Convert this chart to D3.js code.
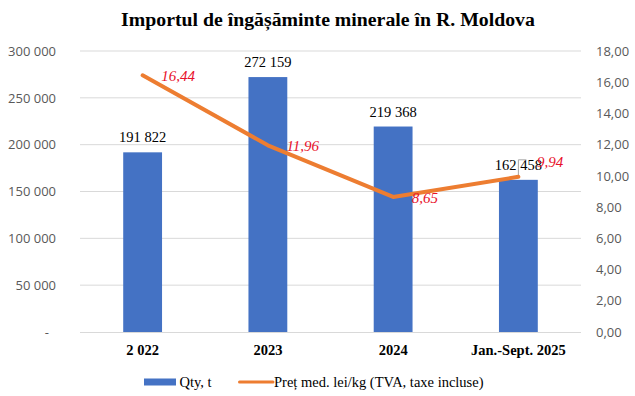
<!DOCTYPE html>
<html>
<head>
<meta charset="utf-8">
<script src="https://cdn.jsdelivr.net/npm/d3@7"></script>
<style>
  html, body { margin: 0; padding: 0; background: #fff; }
  svg { display: block; }
</style>
</head>
<body>
<svg id="chart" width="635" height="396"></svg>
<script>
const categories = ["2 022", "2023", "2024", "Jan.-Sept. 2025"];
const qty = [191822, 272159, 219368, 162458];
const price = [16.44, 11.96, 8.65, 9.94];
const leftTicks = [0, 50000, 100000, 150000, 200000, 250000, 300000];
const rightTicks = [0, 2, 4, 6, 8, 10, 12, 14, 16, 18];
const title = "Importul de îngășăminte minerale în R. Moldova";
const seriesNames = ["Qty, t", "Preț med. lei/kg (TVA, taxe incluse)"];

const svg = d3.select("#chart");
const m = { left: 80, right: 581, top: 51, bottom: 332 };
const serif = "'Liberation Serif', 'Times New Roman', serif";
const sans = "'Open Sans', 'Liberation Sans', sans-serif";

const x = d3.scaleBand().domain(categories).range([m.left, m.right]).paddingInner(0.69).paddingOuter(0.345);
const yL = d3.scaleLinear().domain([0, 300000]).range([m.bottom, m.top]);
const yR = d3.scaleLinear().domain([0, 18]).range([m.bottom, m.top]);
const cx = c => x(c) + x.bandwidth() / 2;

// title
svg.append("text").attr("x", 328).attr("y", 25.5).attr("text-anchor", "middle")
  .attr("font-family", serif).attr("font-weight", "bold").attr("font-size", 19.8)
  .attr("fill", "#000").text(title);

// gridlines
svg.append("g").selectAll("line").data(leftTicks.filter(d => d > 0)).join("line")
  .attr("x1", m.left).attr("x2", m.right)
  .attr("y1", d => yL(d)).attr("y2", d => yL(d))
  .attr("stroke", "#d9d9d9").attr("stroke-width", 1);

// left axis
const fmtL = d => d === 0 ? "-" : d3.format(",")(d).replace(/,/g, " ");
const axL = svg.append("g").attr("transform", `translate(${56},0)`)
  .call(d3.axisLeft(yL).tickValues(leftTicks).tickFormat(fmtL).tickSize(0).tickPadding(0));
axL.select(".domain").remove();
axL.selectAll("text").attr("font-family", sans).attr("font-size", 13).attr("fill", "#595959")
  .attr("dx", d => d === 0 ? -7 : 0);

// right axis
const fmtR = d => d3.format(".2f")(d).replace(".", ",");
const axR = svg.append("g").attr("transform", `translate(${596},0)`)
  .call(d3.axisRight(yR).tickValues(rightTicks).tickFormat(fmtR).tickSize(0).tickPadding(0));
axR.select(".domain").remove();
axR.selectAll("text").attr("font-family", sans).attr("font-size", 13).attr("fill", "#595959");

// bars
svg.append("g").selectAll("rect").data(categories).join("rect")
  .attr("x", c => x(c)).attr("width", x.bandwidth())
  .attr("y", (c, i) => yL(qty[i])).attr("height", (c, i) => m.bottom - yL(qty[i]))
  .attr("fill", "#4472c4");

// baseline axis
svg.append("line").attr("x1", m.left).attr("x2", m.right)
  .attr("y1", m.bottom + 0.5).attr("y2", m.bottom + 0.5)
  .attr("stroke", "#d9d9d9").attr("stroke-width", 1);

// x axis labels
const axB = svg.append("g").attr("transform", `translate(0,${m.bottom})`)
  .call(d3.axisBottom(x).tickSize(0).tickPadding(0));
axB.select(".domain").remove();
axB.selectAll("text").attr("font-family", serif).attr("font-weight", "bold")
  .attr("font-size", 14.5).attr("fill", "#000").attr("dy", 0).attr("y", 23);

// bar value labels
svg.append("g").selectAll("text").data(categories).join("text")
  .attr("x", c => cx(c)).attr("y", (c, i) => yL(qty[i]) - 10)
  .attr("text-anchor", "middle").attr("font-family", serif).attr("font-size", 14.5)
  .attr("fill", "#000").text((c, i) => fmtL(qty[i]));

// leader line for last bar label
const lastC = categories[categories.length - 1];
const lp = [cx(lastC), yR(price[price.length - 1])];
svg.append("path")
  .attr("d", `M${lp[0]},${lp[1]} V${lp[1] - 17} h8`)
  .attr("fill", "none").attr("stroke", "#a6a6a6").attr("stroke-width", 1);

// price line
const line = d3.line().x((c, i) => cx(c)).y((c, i) => yR(price[i]));
svg.append("path").datum(categories).attr("d", line)
  .attr("fill", "none").attr("stroke", "#ed7d31").attr("stroke-width", 4)
  .attr("stroke-linecap", "round").attr("stroke-linejoin", "round");

// price labels
svg.append("g").selectAll("text").data(categories).join("text")
  .attr("x", c => cx(c) + 18.5)
  .attr("y", (c, i) => yR(price[i]) + (i === categories.length - 1 ? -15 : 1))
  .attr("dy", "0.33em")
  .attr("font-family", serif).attr("font-style", "italic").attr("font-size", 15)
  .attr("fill", "#e8102a").text((c, i) => fmtR(price[i]));

// legend
const lg = svg.append("g");
lg.append("rect").attr("x", 144).attr("y", 378.5).attr("width", 32).attr("height", 7).attr("fill", "#4472c4");
lg.append("text").attr("x", 179.5).attr("y", 387).attr("font-family", serif).attr("font-size", 14.5)
  .attr("fill", "#000").text(seriesNames[0]);
lg.append("line").attr("x1", 239.5).attr("x2", 273).attr("y1", 382).attr("y2", 382)
  .attr("stroke", "#ed7d31").attr("stroke-width", 3).attr("stroke-linecap", "round");
lg.append("text").attr("x", 274).attr("y", 387).attr("font-family", serif).attr("font-size", 14.5)
  .attr("fill", "#000").text(seriesNames[1]);
</script>
</body>
</html>
